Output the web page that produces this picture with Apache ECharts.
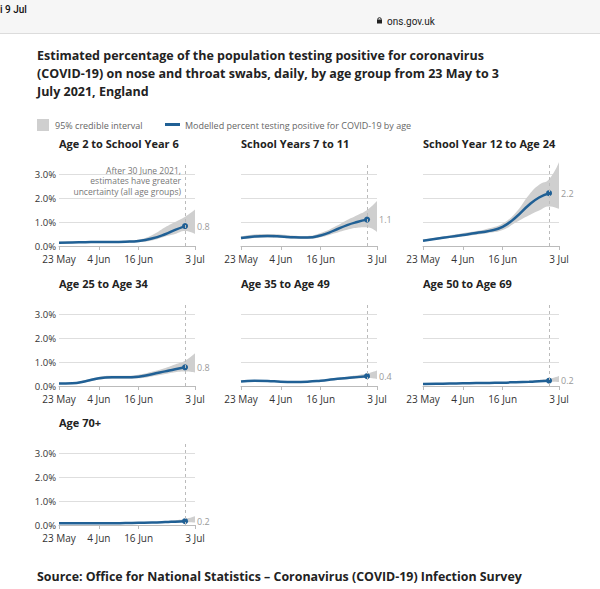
<!DOCTYPE html>
<html><head><meta charset="utf-8">
<script src="https://cdn.jsdelivr.net/npm/echarts@6/dist/echarts.min.js"></script>
<style>html,body{margin:0;padding:0;background:#fff}#c{width:600px;height:589px}</style>
</head><body><div id="c"></div>
<script>
// ---- data ----
const sampleDates = ['23 May','27 May','31 May','4 Jun','8 Jun','12 Jun','16 Jun','20 Jun','24 Jun','27 Jun','30 Jun','3 Jul'];
const tickLabels = ['23 May','4 Jun','16 Jun','3 Jul'];
const cutoffDate = '30 Jun';
const yTicks = [0, 1, 2, 3];
const panelTitles = ['Age 2 to School Year 6','School Years 7 to 11','School Year 12 to Age 24','Age 25 to Age 34','Age 35 to Age 49','Age 50 to Age 69','Age 70+'];

// modelled % (to 30 Jun), and 95% credible interval (to 3 Jul)
const lineAge2toY6   = [0.14,0.15,0.16,0.17,0.17,0.18,0.21,0.31,0.49,0.67,0.83];
const lowerAge2toY6  = [0.11,0.12,0.13,0.14,0.14,0.14,0.16,0.23,0.40,0.50,0.62,0.50];
const upperAge2toY6  = [0.18,0.19,0.20,0.21,0.21,0.22,0.27,0.45,0.78,1.00,1.22,1.52];

const lineY7toY11    = [0.33,0.40,0.42,0.40,0.36,0.35,0.44,0.64,0.87,1.00,1.10];
const lowerY7toY11   = [0.27,0.33,0.35,0.33,0.30,0.29,0.36,0.52,0.68,0.76,0.78,0.58];
const upperY7toY11   = [0.40,0.48,0.50,0.48,0.43,0.42,0.54,0.78,1.08,1.28,1.50,1.88];

const lineY12to24    = [0.22,0.30,0.38,0.46,0.54,0.63,0.80,1.20,1.72,2.02,2.20];
const lowerY12to24   = [0.19,0.26,0.33,0.40,0.47,0.55,0.67,0.98,1.28,1.48,1.65,1.55];
const upperY12to24   = [0.26,0.35,0.44,0.53,0.62,0.74,0.94,1.40,2.14,2.55,2.78,3.50];

const line25to34     = [0.10,0.11,0.20,0.32,0.36,0.36,0.39,0.49,0.61,0.70,0.78];
const lower25to34    = [0.08,0.09,0.16,0.26,0.30,0.30,0.32,0.40,0.50,0.57,0.60,0.56];
const upper25to34    = [0.13,0.14,0.25,0.38,0.43,0.43,0.47,0.59,0.75,0.90,1.05,1.36];

const line35to49     = [0.19,0.22,0.21,0.18,0.17,0.18,0.22,0.28,0.33,0.37,0.41];
const lower35to49    = [0.17,0.19,0.19,0.16,0.15,0.16,0.19,0.24,0.28,0.31,0.33,0.29];
const upper35to49    = [0.21,0.24,0.24,0.21,0.20,0.21,0.25,0.32,0.39,0.45,0.52,0.65];

const line50to69     = [0.08,0.09,0.10,0.11,0.12,0.13,0.14,0.16,0.18,0.20,0.22];
const lower50to69    = [0.07,0.08,0.09,0.10,0.11,0.12,0.13,0.14,0.16,0.17,0.18,0.17];
const upper50to69    = [0.09,0.10,0.11,0.12,0.13,0.14,0.16,0.18,0.21,0.25,0.30,0.42];

const line70plus     = [0.07,0.07,0.07,0.07,0.07,0.08,0.09,0.10,0.12,0.14,0.16];
const lower70plus    = [0.06,0.06,0.06,0.06,0.06,0.07,0.08,0.08,0.09,0.10,0.11,0.10];
const upper70plus    = [0.08,0.08,0.08,0.08,0.08,0.09,0.10,0.12,0.15,0.20,0.25,0.36];

const panelLines  = [lineAge2toY6, lineY7toY11, lineY12to24, line25to34, line35to49, line50to69, line70plus];
const panelLowers = [lowerAge2toY6, lowerY7toY11, lowerY12to24, lower25to34, lower35to49, lower50to69, lower70plus];
const panelUppers = [upperAge2toY6, upperY7toY11, upperY12to24, upper25to34, upper35to49, upper50to69, upper70plus];

// ---- helpers: daily category axis from first to last tick date ----
const MONTHS = ['Jan','Feb','Mar','Apr','May','Jun','Jul','Aug','Sep','Oct','Nov','Dec'];
function toTime(s) { const p = s.split(' '); return Date.UTC(2021, MONTHS.indexOf(p[1]), +p[0]); }
function fmt(t) { const d = new Date(t); return d.getUTCDate() + ' ' + MONTHS[d.getUTCMonth()]; }
const dayCats = [];
for (let t = toTime(tickLabels[0]); t <= toTime(tickLabels[tickLabels.length - 1]); t += 86400000) dayCats.push(fmt(t));
const tickIdx = new Set(tickLabels.map(l => dayCats.indexOf(l)));

const FONT = 'Open Sans';
const BLUE = '#206095';
const BAND = '#cfcfcf';

const colLeft = [59, 241, 423];
const rowTop = [162, 302, 441];
const gridW = 136, gridH = 84;

const grids = [], xAxes = [], yAxes = [], series = [], graphics = [];

panelTitles.forEach((title, i) => {
  const col = i % 3, row = Math.floor(i / 3);
  grids.push({left: colLeft[col], top: rowTop[row], width: gridW, height: gridH});
  xAxes.push({
    type: 'category', gridIndex: i, data: dayCats, boundaryGap: false,
    axisLine: {show: true, lineStyle: {color: '#bbb', width: 1}},
    axisTick: {show: true, interval: (k) => tickIdx.has(k), length: 4, lineStyle: {color: '#bbb'}},
    axisLabel: {interval: (k) => tickIdx.has(k), fontSize: 10, lineHeight: 11, color: '#333', fontFamily: FONT, margin: 7},
    splitLine: {show: false}
  });
  yAxes.push({
    type: 'value', gridIndex: i, min: 0, max: 3.5, interval: 1,
    axisLine: {show: false}, axisTick: {show: false},
    splitLine: {show: true, showMaxLine: false, lineStyle: {color: '#dedede', width: 1}},
    axisLabel: {show: col === 0, showMaxLabel: false, formatter: v => yTicks.indexOf(v) >= 0 ? v.toFixed(1) + '%' : '', fontSize: 9.5, lineHeight: 10, color: '#333', fontFamily: FONT, margin: 3}
  });
  const lower = panelLowers[i], upper = panelUppers[i], line = panelLines[i];
  series.push({
    type: 'line', xAxisIndex: i, yAxisIndex: i, stack: 'band' + i, silent: true,
    data: sampleDates.map((d, k) => [d, lower[k]]), smooth: true, symbol: 'none',
    lineStyle: {opacity: 0}, z: 1
  });
  series.push({
    type: 'line', xAxisIndex: i, yAxisIndex: i, stack: 'band' + i, silent: true,
    data: sampleDates.map((d, k) => [d, +(upper[k] - lower[k]).toFixed(3)]), smooth: true, symbol: 'none',
    lineStyle: {opacity: 0}, areaStyle: {color: BAND, opacity: 1}, z: 1
  });
  const n = line.length;
  series.push({
    type: 'line', xAxisIndex: i, yAxisIndex: i, silent: true,
    data: line.map((v, k) => [sampleDates[k], v]), smooth: true,
    symbol: 'circle', symbolSize: (v, p) => p.dataIndex === n - 1 ? 6 : 0, showSymbol: true, showAllSymbol: true,
    itemStyle: {color: BLUE}, lineStyle: {color: BLUE, width: 2.5}, z: 3,
    endLabel: {show: true, formatter: p => p.value[1].toFixed(1), distance: 12, color: '#999', fontSize: 9, fontFamily: FONT},
    markLine: {silent: true, symbol: 'none', animation: false, label: {show: false},
      lineStyle: {type: [3, 3], color: '#bbb', width: 1}, data: [{xAxis: cutoffDate}]}
  });
  graphics.push({type: 'text', x: colLeft[col], y: rowTop[row] - 19,
    style: {text: title, fontSize: 11, fontWeight: 'bold', fontFamily: FONT, fill: '#222', verticalAlign: 'middle'}});
});

// header / legend / notes
graphics.push(
  {type: 'rect', shape: {x: 0, y: 0, width: 600, height: 33}, style: {fill: '#f6f6f6'}, z: -1},
  {type: 'line', shape: {x1: 0, y1: 33.5, x2: 600, y2: 33.5}, style: {stroke: '#dcdcdc', lineWidth: 1}},
  {type: 'text', x: 0, y: 9, style: {text: 'i 9 Jul', fontSize: 10, fontFamily: 'Roboto', fontWeight: 500, fill: '#111', verticalAlign: 'middle'}},
  {type: 'rect', shape: {x: 377, y: 19.5, width: 5, height: 4}, style: {fill: '#222'}},
  {type: 'arc', shape: {cx: 379.5, cy: 19.5, r: 1.8, startAngle: Math.PI, endAngle: 2 * Math.PI}, style: {stroke: '#222', fill: 'none', lineWidth: 1}},
  {type: 'text', x: 387, y: 21, style: {text: 'ons.gov.uk', fontSize: 10, fontFamily: 'Roboto', fill: '#222', verticalAlign: 'middle'}},
  {type: 'rect', shape: {x: 37, y: 119, width: 12, height: 12}, style: {fill: BAND}},
  {type: 'text', x: 55, y: 125, style: {text: '95% credible interval', fontSize: 9, fontFamily: FONT, fill: '#666', verticalAlign: 'middle'}},
  {type: 'rect', shape: {x: 165, y: 123, width: 15, height: 3}, style: {fill: BLUE}},
  {type: 'text', x: 185, y: 125, style: {text: 'Modelled percent testing positive for COVID-19 by age', fontSize: 9, fontFamily: FONT, fill: '#666', verticalAlign: 'middle'}},
  {type: 'text', x: 181, y: 165.5, z: 10, style: {text: 'After 30 June 2021,\nestimates have greater\nuncertainty (all age groups)', fontSize: 8.5, lineHeight: 10.3, fontFamily: FONT, fill: '#777', align: 'right', verticalAlign: 'top'}},
  {type: 'text', x: 37, y: 576, style: {text: 'Source: Office for National Statistics \u2013 Coronavirus (COVID-19) Infection Survey', fontSize: 12.4, fontWeight: 'bold', fontFamily: FONT, fill: '#222', verticalAlign: 'middle'}}
);

const chart = echarts.init(document.getElementById('c'), null, {renderer: 'svg', width: 600, height: 589});
chart.setOption({
  animation: false,
  backgroundColor: '#fff',
  title: {text: 'Estimated percentage of the population testing positive for coronavirus\n(COVID-19) on nose and throat swabs, daily, by age group from 23 May to 3\nJuly 2021, England',
    left: 37, top: 46, padding: 0, textStyle: {fontSize: 12.5, fontWeight: 'bold', lineHeight: 18, color: '#222', fontFamily: FONT}},
  grid: grids, xAxis: xAxes, yAxis: yAxes, series: series, graphic: graphics
});
</script></body></html>
